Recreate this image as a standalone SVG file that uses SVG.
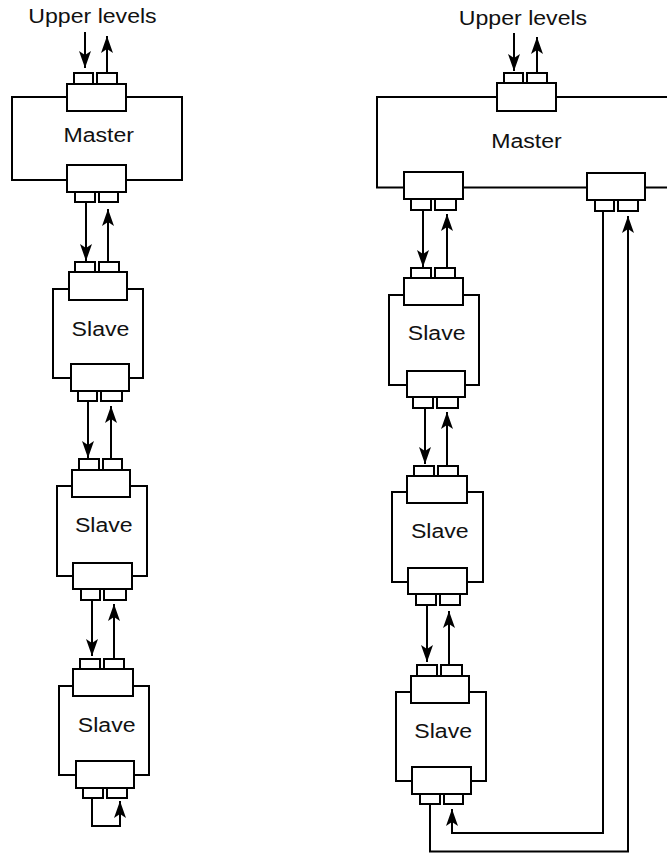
<svg xmlns="http://www.w3.org/2000/svg" width="667" height="853" viewBox="0 0 667 853">
  <style>
    .frame { fill: none; stroke: #000; stroke-width: 2; }
    .box { fill: #fff; stroke: #000; stroke-width: 2; }
    .arrow { fill: none; stroke: #000; stroke-width: 2; marker-end: url(#head); }
    .lbl { font-family: "Liberation Sans", Arial, Helvetica, sans-serif; font-size: 21px; fill: #111; text-anchor: middle; }
  </style>
  <defs>
    <marker id="head" viewBox="-18 -7 18 14" refX="0" refY="0" markerWidth="18" markerHeight="14" markerUnits="userSpaceOnUse" orient="auto">
      <path d="M0,0 L-17,-6 L-13,0 L-17,6 Z" fill="#000"/>
    </marker>
  </defs>
  <rect width="667" height="853" fill="#fff"/>

  <!-- Left chain: master followed by three slaves, last one looped back on itself -->
  <text class="lbl" transform="translate(92.5,23.3) scale(1.1,1)">Upper levels</text>

  <g id="left-master">
    <rect class="frame" x="12" y="97" width="170" height="83"/>
    <rect class="box" x="67" y="84" width="59" height="27"/>
    <rect class="box" x="74" y="73" width="19" height="11"/>
    <rect class="box" x="97" y="73" width="20" height="11"/>
    <rect class="box" x="67" y="165" width="59" height="27"/>
    <rect class="box" x="75" y="192" width="20" height="10"/>
    <rect class="box" x="99" y="192" width="19" height="10"/>
    <text class="lbl" transform="translate(98.7,142.3) scale(1.1,1)">Master</text>
  </g>

  <g id="left-slave-1">
    <rect class="frame" x="53" y="289" width="90" height="89"/>
    <rect class="box" x="69" y="272" width="58" height="28"/>
    <rect class="box" x="75" y="262" width="20" height="10"/>
    <rect class="box" x="99" y="262" width="20" height="10"/>
    <rect class="box" x="71" y="364" width="58" height="27"/>
    <rect class="box" x="78" y="391" width="19" height="10"/>
    <rect class="box" x="101" y="391" width="21" height="10"/>
    <text class="lbl" transform="translate(100.5,336) scale(1.1,1)">Slave</text>
  </g>

  <g id="left-slave-2">
    <rect class="frame" x="57" y="486" width="90" height="90"/>
    <rect class="box" x="72" y="470" width="58" height="27"/>
    <rect class="box" x="79" y="459" width="20" height="11"/>
    <rect class="box" x="103" y="459" width="19" height="11"/>
    <rect class="box" x="73" y="563" width="59" height="26"/>
    <rect class="box" x="81" y="589" width="19" height="11"/>
    <rect class="box" x="104" y="589" width="22" height="11"/>
    <text class="lbl" transform="translate(103.8,532.3) scale(1.1,1)">Slave</text>
  </g>

  <g id="left-slave-3">
    <rect class="frame" x="59" y="686" width="90" height="89"/>
    <rect class="box" x="73" y="669" width="60" height="27"/>
    <rect class="box" x="80" y="659" width="20" height="10"/>
    <rect class="box" x="104" y="659" width="20" height="10"/>
    <rect class="box" x="76" y="761" width="58" height="27"/>
    <rect class="box" x="83" y="788" width="20" height="10"/>
    <rect class="box" x="107" y="788" width="20" height="10"/>
    <text class="lbl" transform="translate(106.7,732.3) scale(1.1,1)">Slave</text>
  </g>

  <!-- Right chain: master with two downstream ports, ring closed back to the master -->
  <text class="lbl" transform="translate(523,25) scale(1.1,1)">Upper levels</text>

  <g id="right-master">
    <path class="frame" d="M670,97 H377 V187.5 H670"/>
    <rect class="box" x="497" y="83" width="59" height="28"/>
    <rect class="box" x="504" y="73" width="19" height="10"/>
    <rect class="box" x="527" y="73" width="20" height="10"/>
    <rect class="box" x="404" y="172" width="59" height="27"/>
    <rect class="box" x="411" y="199" width="20" height="11"/>
    <rect class="box" x="435" y="199" width="21" height="11"/>
    <rect class="box" x="587" y="173" width="58" height="27"/>
    <rect class="box" x="595" y="200" width="19" height="11"/>
    <rect class="box" x="618" y="200" width="20" height="11"/>
    <text class="lbl" transform="translate(526.5,148.3) scale(1.1,1)">Master</text>
  </g>

  <g id="right-slave-1">
    <rect class="frame" x="389" y="295" width="90" height="90"/>
    <rect class="box" x="404" y="278" width="59" height="27"/>
    <rect class="box" x="411" y="268" width="20" height="10"/>
    <rect class="box" x="435" y="268" width="20" height="10"/>
    <rect class="box" x="407" y="371" width="58" height="26"/>
    <rect class="box" x="413" y="397" width="20" height="11"/>
    <rect class="box" x="437" y="397" width="21" height="11"/>
    <text class="lbl" transform="translate(436.7,340) scale(1.1,1)">Slave</text>
  </g>

  <g id="right-slave-2">
    <rect class="frame" x="392" y="492" width="91" height="90"/>
    <rect class="box" x="407" y="476" width="60" height="27"/>
    <rect class="box" x="414" y="466" width="20" height="10"/>
    <rect class="box" x="438" y="466" width="20" height="10"/>
    <rect class="box" x="408" y="568" width="59" height="26"/>
    <rect class="box" x="416" y="594" width="20" height="11"/>
    <rect class="box" x="440" y="594" width="20" height="11"/>
    <text class="lbl" transform="translate(439.8,537.7) scale(1.1,1)">Slave</text>
  </g>

  <g id="right-slave-3">
    <rect class="frame" x="396" y="692" width="90" height="89"/>
    <rect class="box" x="411" y="676" width="58" height="27"/>
    <rect class="box" x="417" y="665" width="20" height="11"/>
    <rect class="box" x="441" y="665" width="21" height="11"/>
    <rect class="box" x="412" y="767" width="59" height="27"/>
    <rect class="box" x="420" y="794" width="20" height="10"/>
    <rect class="box" x="444" y="794" width="19" height="10"/>
    <text class="lbl" transform="translate(443.2,738.3) scale(1.1,1)">Slave</text>
  </g>

  <g id="connectors">
    <!-- left chain -->
    <path class="arrow" d="M85,32 V68"/>
    <path class="arrow" d="M107,73 V36"/>
    <path class="arrow" d="M86,202 V261"/>
    <path class="arrow" d="M108,262 V209"/>
    <path class="arrow" d="M88,401 V458"/>
    <path class="arrow" d="M111,459 V406"/>
    <path class="arrow" d="M92,600 V656"/>
    <path class="arrow" d="M114,659 V604"/>
    <path class="arrow" d="M92,798 V826 H120 V801"/>
    <!-- right chain -->
    <path class="arrow" d="M514,33 V71"/>
    <path class="arrow" d="M537,73 V37"/>
    <path class="arrow" d="M423,210 V267"/>
    <path class="arrow" d="M447,268 V214"/>
    <path class="arrow" d="M425,408 V464"/>
    <path class="arrow" d="M447,466 V412"/>
    <path class="arrow" d="M427,605 V662"/>
    <path class="arrow" d="M449,665 V611"/>
    <path class="arrow" d="M430,804 V851.5 H628 V216"/>
    <path class="arrow" d="M603,211 V833 H452 V809"/>
  </g>
</svg>
